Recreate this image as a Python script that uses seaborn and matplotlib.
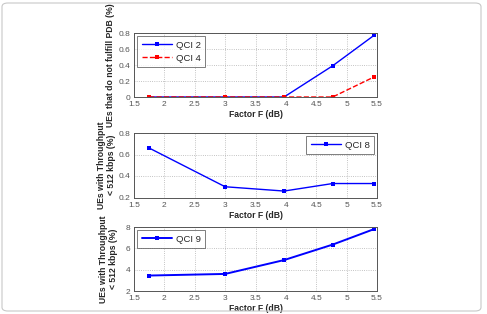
import matplotlib
matplotlib.use("Agg")
import matplotlib.pyplot as plt
import seaborn as sns
import pandas as pd
from matplotlib.patches import FancyBboxPatch

factor_f = [1.75, 3.0, 3.97, 4.77, 5.45]
qci2 = [0.0, 0.0, 0.0, 0.39, 0.77]
qci4 = [0.0, 0.0, 0.0, 0.0, 0.25]
qci8 = [0.66, 0.30, 0.26, 0.33, 0.33]
qci9 = [3.45, 3.6, 4.9, 6.35, 7.8]
xticks = [1.5, 2, 2.5, 3, 3.5, 4, 4.5, 5, 5.5]
xticklabels = ["1.5", "2", "2.5", "3", "3.5", "4", "4.5", "5", "5.5"]

sns.set_style("white")
plt.rcParams['font.family'] = ['Liberation Sans', 'DejaVu Sans']

W, H = 487, 314
fig = plt.figure(figsize=(W / 100, H / 100), dpi=100)

frame = FancyBboxPatch((2 / W, 3 / H), 479 / W, 308 / H,
                       boxstyle="round,pad=0,rounding_size=0.012",
                       transform=fig.transFigure, fill=False,
                       edgecolor="#c8c8c8", linewidth=0.8)
fig.patches.append(frame)

def make_ax(top, bottom):
    left, right = 134, 377
    return fig.add_axes([left / W, 1 - bottom / H, (right - left) / W, (bottom - top) / H])

ax1 = make_ax(33, 97)
ax2 = make_ax(133, 197.5)
ax3 = make_ax(227, 291)

tick_color = "#555555"
lab_fs = 6.2
grid_kw = dict(color="#b0b0b0", linestyle=":", linewidth=0.6)
mk = dict(marker="s", markersize=3.5, markeredgewidth=0)

d1 = pd.DataFrame({"x": factor_f, "y": qci2})
d2 = pd.DataFrame({"x": factor_f, "y": qci4})
sns.lineplot(data=d1, x="x", y="y", ax=ax1, color="#0000ff", linewidth=1.0,
             label="QCI 2", **mk)
sns.lineplot(data=d2, x="x", y="y", ax=ax1, color="#ff0000", linewidth=1.0,
             linestyle="--", label="QCI 4", **mk)
ax1.set_ylim(0, 0.8)
ax1.set_yticks([0, 0.2, 0.4, 0.6, 0.8])
ax1.set_yticklabels(["0", "0.2", "0.4", "0.6", "0.8"])
ax1.set_ylabel("UEs that do not fulfill PDB (%)", fontsize=lab_fs, fontweight="bold", labelpad=3)

d8 = pd.DataFrame({"x": factor_f, "y": qci8})
sns.lineplot(data=d8, x="x", y="y", ax=ax2, color="#0000ff", linewidth=1.0,
             label="QCI 8", **mk)
ax2.set_ylim(0.2, 0.8)
ax2.set_yticks([0.2, 0.4, 0.6, 0.8])
ax2.set_yticklabels(["0.2", "0.4", "0.6", "0.8"])
ax2.set_ylabel("UEs with Throughput\n< 512 kbps (%)", fontsize=lab_fs, fontweight="bold", labelpad=2, linespacing=1.1)

d9 = pd.DataFrame({"x": factor_f, "y": qci9})
sns.lineplot(data=d9, x="x", y="y", ax=ax3, color="#0000ff", linewidth=1.4,
             label="QCI 9", **mk)
ax3.set_ylim(2, 8)
ax3.set_yticks([2, 4, 6, 8])
ax3.set_yticklabels(["2", "4", "6", "8"])
ax3.set_ylabel("UEs with Throughput\n< 512 kbps (%)", fontsize=lab_fs, fontweight="bold", labelpad=6, linespacing=1.1)

legend_locs = ["upper left", "upper right", "upper left"]
for ax, loc in zip([ax1, ax2, ax3], legend_locs):
    ax.set_xlim(1.5, 5.5)
    ax.set_xticks(xticks)
    ax.set_xticklabels(xticklabels)
    ax.set_xlabel("Factor F (dB)", fontsize=lab_fs, fontweight="bold", labelpad=1.5)
    ax.grid(True, **grid_kw)
    ax.tick_params(axis="both", labelsize=6, colors=tick_color, length=2,
                   direction="in", labelcolor=tick_color)
    ax.tick_params(axis="x", pad=3)
    ax.tick_params(axis="y", pad=2.5)
    for s in ax.spines.values():
        s.set_color("#555555")
        s.set_linewidth(0.7)
    leg = ax.legend(loc=loc, fontsize=6.8, frameon=True, fancybox=False,
                    borderpad=0.45, handlelength=3.2, handletextpad=0.4,
                    labelspacing=0.45, borderaxespad=0.35)
    leg.get_frame().set_edgecolor("#444444")
    leg.get_frame().set_linewidth(0.6)

fig.savefig("out.png", dpi=100)
